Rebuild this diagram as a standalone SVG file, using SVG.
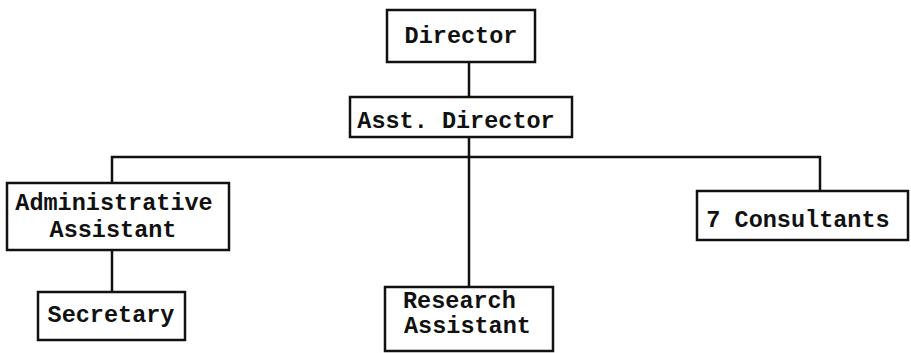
<svg xmlns="http://www.w3.org/2000/svg" width="911" height="353" viewBox="0 0 911 353">
<style>
.box{fill:#fff;stroke:#111;stroke-width:2.5}
.ln{fill:none;stroke:#111;stroke-width:2.5}
text{font-family:"Liberation Mono","DejaVu Sans Mono",monospace;font-size:23.5px;font-weight:bold;fill:#111}
.c{text-anchor:middle}
</style>
<rect width="911" height="353" fill="#fff"/>
<g id="connectors">
<line class="ln" x1="469" y1="62" x2="469" y2="97"/>
<line class="ln" x1="469" y1="137" x2="469" y2="287"/>
<polyline class="ln" points="112,183 112,157 820,157 820,191"/>
<line class="ln" x1="112" y1="250" x2="112" y2="292"/>
</g>
<g id="director">
<rect class="box" x="387" y="10" width="148" height="52"/>
<text class="c" x="461" y="43">Director</text>
</g>
<g id="asst-director">
<rect class="box" x="350" y="97" width="222" height="40"/>
<text class="c" x="456" y="128">Asst. Director</text>
</g>
<g id="admin-assistant">
<rect class="box" x="7" y="183" width="222" height="67"/>
<text class="c" x="114" y="210">Administrative</text>
<text class="c" x="113" y="237">Assistant</text>
</g>
<g id="secretary">
<rect class="box" x="38" y="292" width="147" height="48"/>
<text class="c" x="111" y="322">Secretary</text>
</g>
<g id="research-assistant">
<rect class="box" x="385" y="287" width="168" height="64"/>
<text x="403" y="308">Research</text>
<text x="404" y="333">Assistant</text>
</g>
<g id="consultants">
<rect class="box" x="697" y="191" width="211" height="49"/>
<text class="c" x="798" y="227">7 Consultants</text>
</g>
</svg>
